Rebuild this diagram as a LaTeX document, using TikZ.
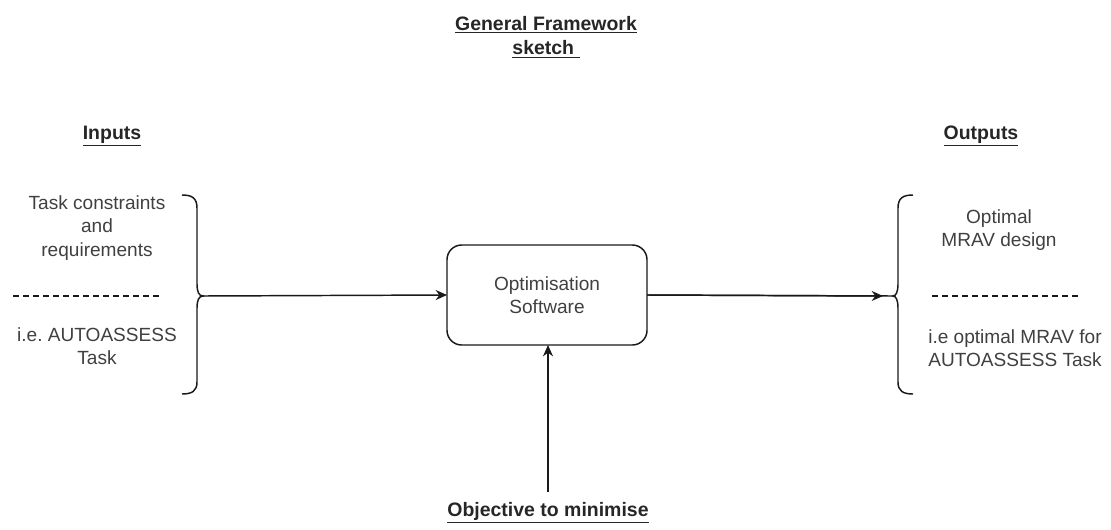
\documentclass[tikz,border=0pt]{standalone}
\usepackage{fontspec}
\setmainfont{Liberation Sans}
\usetikzlibrary{arrows.meta}
\definecolor{txtgray}{RGB}{64,64,64}
\definecolor{linegray}{RGB}{25,25,25}
\tikzset{
  every node/.style={inner sep=0pt, outer sep=0pt},
  plain/.style={font=\frenchspacing\fontsize{14.3}{17.3}\selectfont, text=txtgray, align=center},
  heading/.style={font=\fontsize{14.6}{18.5}\selectfont\bfseries, text=black!85, align=center},
  procbox/.style={draw=linegray, line width=1.1pt, rounded corners=11pt, minimum width=150pt, minimum height=75pt, plain},
  conn/.style={draw=linegray, line width=1.1pt},
  arr/.style={conn, -{Stealth[length=8.5pt,width=7.5pt]}},
  bracestyle/.style={draw=linegray, line width=1.1pt},
  sep/.style={draw=linegray, line width=0.8pt, dash pattern=on 4.5pt off 3pt}
}
\begin{document}
\begin{tikzpicture}[x=0.75pt,y=-0.75pt]
\useasboundingbox (0,0) rectangle (1111,529);
% titles
\node[heading] (title) at (546,37) {\underline{General Framework}\\\underline{sketch\ }};
\node[heading] (inputs) at (112,136) {\underline{Inputs}};
\node[heading] (outputs) at (981,136) {\underline{Outputs}};
% left texts
\node[plain] (tc) at (97,228) {Task constraints\\and\\requirements};
\node[plain] (le) at (97,346) {i.e. AUTOASSESS\\Task};
\coordinate (ld1) at (13,296);
\coordinate (ld2) at (159,296);
\draw[sep] (ld1) -- (ld2);
% right texts
\node[plain] (ro) at (999,230) {Optimal\\MRAV design};
\node[plain] (rb) at (1015,348) {i.e optimal MRAV for\\AUTOASSESS Task};
\coordinate (rd1) at (932,296);
\coordinate (rd2) at (1078,296);
\draw[sep] (rd1) -- (rd2);
% braces
\coordinate (lbtip) at (203,296);
\coordinate (rbtip) at (893,296);
\draw[bracestyle] (182,195) .. controls (192,195) and (197,198) .. (197,208) -- (197,284)
  .. controls (197,292) and (199,296) .. (lbtip)
  .. controls (199,296) and (197,300) .. (197,308) -- (197,382)
  .. controls (197,391) and (192,394) .. (182,394);
\draw[bracestyle] (913,195) .. controls (903,195) and (898,198) .. (898,208) -- (898,284)
  .. controls (898,292) and (896,296) .. (rbtip)
  .. controls (896,296) and (898,300) .. (898,308) -- (898,382)
  .. controls (898,391) and (903,394) .. (913,394);
% central box
\node[procbox] (box) at (547,295) {Optimisation\\Software};
% objective
\node[heading] (obj) at (548,513) {\underline{Objective to minimise}};
\coordinate (objtop) at (548,492);
% connectors
\draw[arr] (lbtip) -- (box.west);
\draw[conn] (box.east) -- (rbtip);
\draw[arr] (box.east) -- ([xshift=-7.5pt]rbtip);
\draw[arr] (objtop) -- (box.south -| objtop);
\end{tikzpicture}
\end{document}
